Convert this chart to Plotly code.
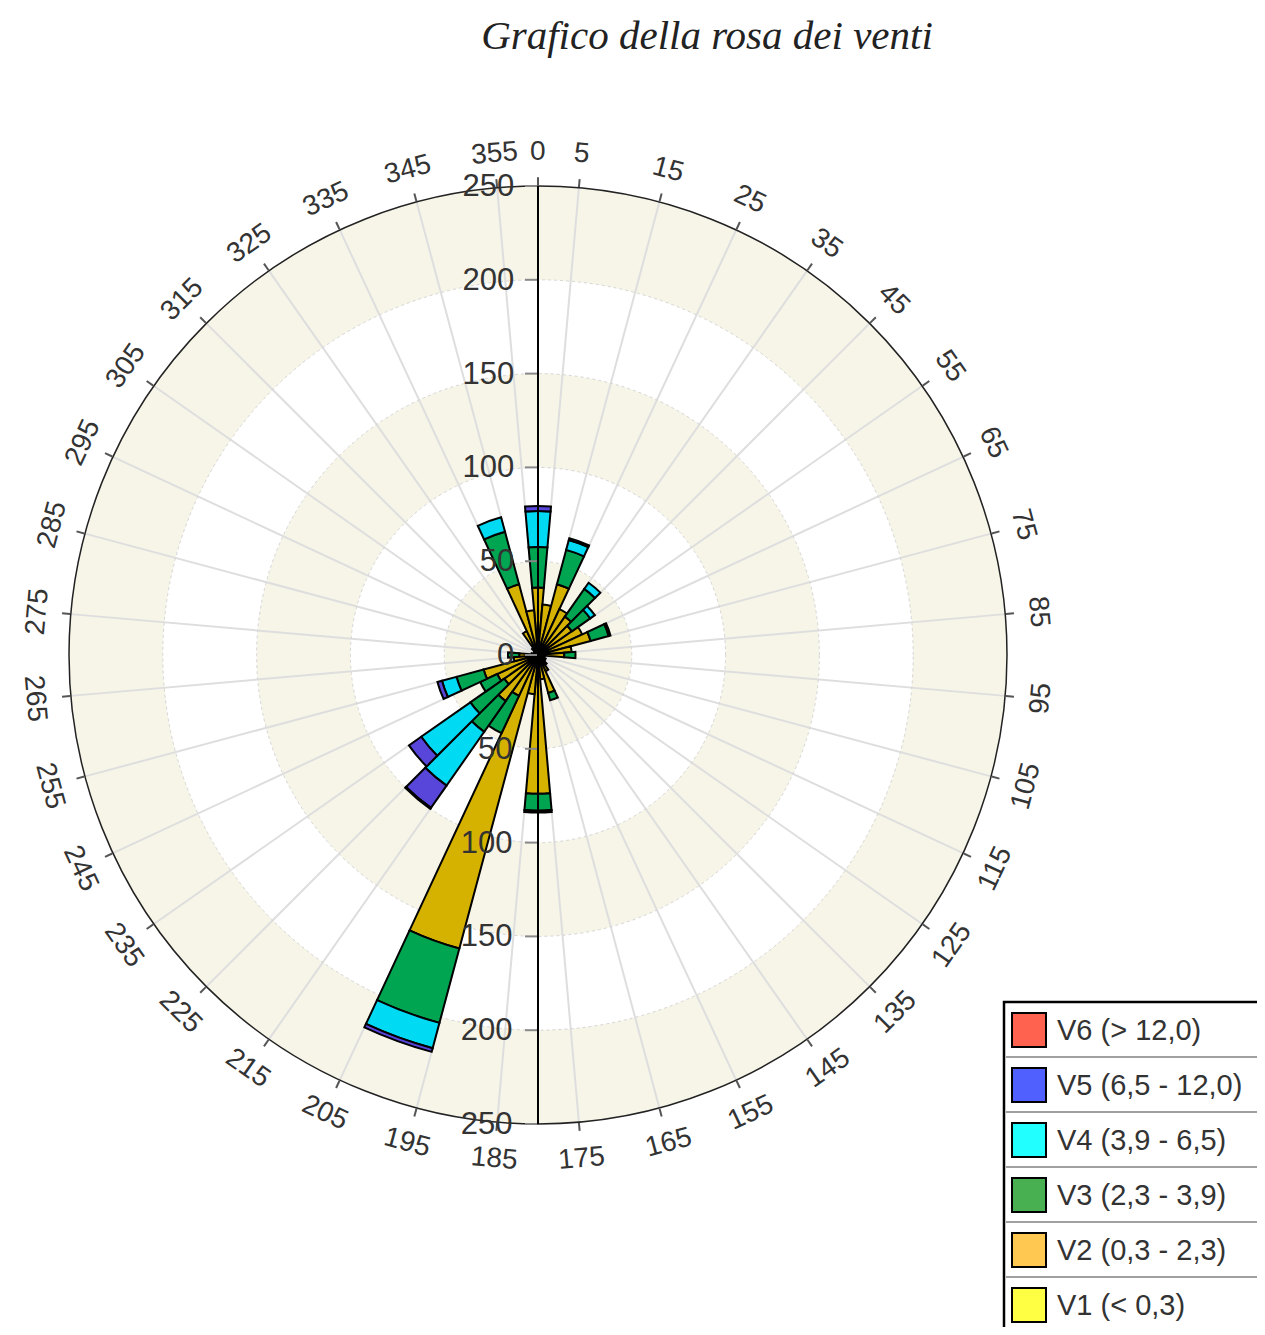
import plotly.graph_objects as go
import math

# ---------------- data ----------------
directions = list(range(0, 360, 10))
V1 = [1, 1, 1, 1, 1, 1, 1, 1, 1, 1, 0.5, 0.5, 0.5, 0.5, 0.5, 0.5, 1, 1,
      1, 1, 1, 1, 1, 1, 1, 1, 1, 1, 0.5, 0.5, 0.5, 0.5, 0.5, 1, 1, 1]
V2 = [35, 26, 38, 26, 24, 21, 25, 28, 17, 13, 3, 3, 4, 4, 6, 9, 20, 12,
      73, 20, 161, 23, 29, 21, 23, 29, 12, 9, 3, 2, 2, 2, 4, 13, 38, 23]
V3 = [21.6, 0, 19, 0, 18, 12, 0, 10, 0, 6, 0, 0, 0, 0, 0, 0, 4, 0,
      9, 0, 41, 22, 20, 22, 10, 15, 0, 6, 0, 0, 0, 0, 0, 0, 29, 0]
V4 = [19.2, 0, 5.5, 0, 4, 3, 0, 1, 0, 0, 0, 0, 0, 0, 0, 0, 0, 0,
      1, 0, 14, 0, 35, 32, 0, 8, 0, 0, 0, 0, 0, 0, 0, 0, 8, 0]
V5 = [2.6, 0, 1, 0, 0, 0, 0, 0, 0, 0, 0, 0, 0, 0, 0, 0, 0, 0,
      0, 0, 2, 0, 14.5, 8, 0, 2.5, 0, 0, 0, 0, 0, 0, 0, 0, 0, 0]
V6 = [0, 0, 0, 0, 0, 0, 0, 0, 0, 0, 0, 0, 0, 0, 0, 0, 0, 0,
      0, 0, 0, 0, 0.6, 0, 0, 0, 0, 0, 0, 0, 0, 0, 0, 0, 0, 0]

series = [V1, V2, V3, V4, V5, V6]
series_names = ["V1 (< 0,3)", "V2 (0,3 - 2,3)", "V3 (2,3 - 3,9)",
                "V4 (3,9 - 6,5)", "V5 (6,5 - 12,0)", "V6 (> 12,0)"]
bar_colors = ["#E8D400", "#D6B200", "#00A551", "#00DAF3", "#5846DA", "#C8402E"]
legend_colors = ["#FFFF44", "#FFC850", "#48B050", "#22FFFF", "#5060FF", "#FF6350"]

angular_ticks = [0] + list(range(5, 360, 10))
radial_ticks = [0, 50, 100, 150, 200, 250]
band_rings = [(0, 50), (100, 150), (200, 250)]
band_quadrants = [45, 135, 225, 315]

title_text = "Grafico della rosa dei venti"

# ---------------- layout geometry (page pixels) ----------------
OFF = 8                       # default body margin of the page
W, H = 1265 - 2 * OFF, 1335 - 2 * OFF
CX, CY, R = 538, 655, 469     # polar centre / radius in page pixels


def px(x):
    return (x - OFF) / W


def py(y):
    return 1 - (y - OFF) / H


dom = dict(x=[px(CX - R), px(CX + R)], y=[py(CY + R), py(CY - R)])

fig = go.Figure()

# background bands (bottom polar)
band_theta, band_base, band_r = [], [], []
for lo, hi in band_rings:
    for q in band_quadrants:
        band_theta.append(q)
        band_base.append(lo)
        band_r.append(hi - lo)
fig.add_trace(go.Barpolar(
    r=band_r, theta=band_theta, base=band_base, width=90,
    marker=dict(color="#F7F5E8", line=dict(width=0)),
    subplot="polar", hoverinfo="skip", showlegend=False))

# data bars
for vals, name, col in zip(series, series_names, bar_colors):
    fig.add_trace(go.Barpolar(
        r=vals, theta=directions, width=10, name=name,
        marker=dict(color=col, line=dict(color="black", width=2)),
        subplot="polar2", showlegend=False))

# dummy trace to materialise the downward radial axis
fig.add_trace(go.Scatterpolar(r=[0], theta=[0], mode="markers",
                              marker=dict(opacity=0), subplot="polar3",
                              hoverinfo="skip", showlegend=False))

tick_font = dict(family="Liberation Sans, Arial, sans-serif", size=31, color="#333333")

fig.update_layout(
    width=W, height=H, autosize=False,
    margin=dict(l=0, r=0, t=0, b=0),
    paper_bgcolor="white",
    showlegend=False,
    title=dict(text=title_text, x=px(707), xanchor="center", xref="container",
               y=py(35), yanchor="middle", yref="container",
               font=dict(family="Liberation Serif, serif", size=41, style="italic",
                         color="#222222")),
    polar=dict(
        domain=dom, bgcolor="white", barmode="overlay",
        angularaxis=dict(visible=False, rotation=90, direction="clockwise"),
        radialaxis=dict(visible=False, range=[0, 250])),
    polar2=dict(
        domain=dom, bgcolor="rgba(0,0,0,0)", barmode="stack",
        angularaxis=dict(rotation=90, direction="clockwise", tickmode="array",
                         tickvals=angular_ticks, showticklabels=False,
                         ticks="outside", ticklen=8, tickcolor="#555555", tickwidth=1.5,
                         showgrid=True, gridcolor="#DEDEDE", gridwidth=1.5,
                         showline=True, linecolor="#222222", linewidth=1.5),
        radialaxis=dict(angle=90, range=[0, 250], tickmode="array", tickvals=radial_ticks,
                        side="counterclockwise", tickangle=90,
                        ticks="outside", ticklen=12, tickcolor="#888888", tickwidth=2,
                        showline=True, linecolor="black", linewidth=2,
                        showgrid=True, gridcolor="#D5D5D5", griddash="dot", gridwidth=1,
                        tickfont=tick_font, layer="above traces")),
    polar3=dict(
        domain=dom, bgcolor="rgba(0,0,0,0)",
        angularaxis=dict(visible=False, rotation=90, direction="clockwise"),
        radialaxis=dict(angle=270, range=[0, 250], tickmode="array",
                        tickvals=radial_ticks[1:], side="clockwise", tickangle=-90,
                        ticks="outside", ticklen=12, tickcolor="#888888", tickwidth=2,
                        showline=True, linecolor="black", linewidth=2, showgrid=False,
                        tickfont=tick_font, layer="above traces")),
)

# angular tick labels, rotated tangentially
LR = 504
for t in angular_ticks:
    a = math.radians(t)
    x = CX + LR * math.sin(a)
    y = CY - LR * math.cos(a)
    rot = t if (t <= 90 or t >= 270) else t - 180
    if rot > 180:
        rot -= 360
    fig.add_annotation(x=px(x), y=py(y), xref="paper", yref="paper", text=str(t),
                       showarrow=False, textangle=rot, xanchor="center", yanchor="middle",
                       font=dict(family="Liberation Sans, Arial, sans-serif", size=28,
                                 color="#333333"))

# legend (drawn as a boxed table, top row = last series)
LX0, LY0 = 1004, 1002
ROW = 55
fig.add_shape(type="rect", xref="paper", yref="paper", x0=px(LX0), x1=px(1300),
              y0=py(LY0), y1=py(1360), line=dict(color="black", width=2.5),
              fillcolor="white", layer="above")
for i, (name, col) in enumerate(zip(series_names[::-1], legend_colors[::-1])):
    top = LY0 + i * ROW
    if i > 0:
        fig.add_shape(type="line", xref="paper", yref="paper", x0=px(LX0 + 2), x1=px(1300),
                      y0=py(top), y1=py(top), line=dict(color="#A0A0A0", width=2))
    fig.add_shape(type="rect", xref="paper", yref="paper",
                  x0=px(1012), x1=px(1046), y0=py(top + 11), y1=py(top + 45),
                  fillcolor=col, line=dict(color="black", width=2))
    fig.add_annotation(x=px(1055), y=py(top + 28), xref="paper", yref="paper", text=name,
                       showarrow=False, xanchor="left", yanchor="middle",
                       font=dict(family="Liberation Sans, Arial, sans-serif", size=29,
                                 color="#333333"))

fig.write_html("out.html")
